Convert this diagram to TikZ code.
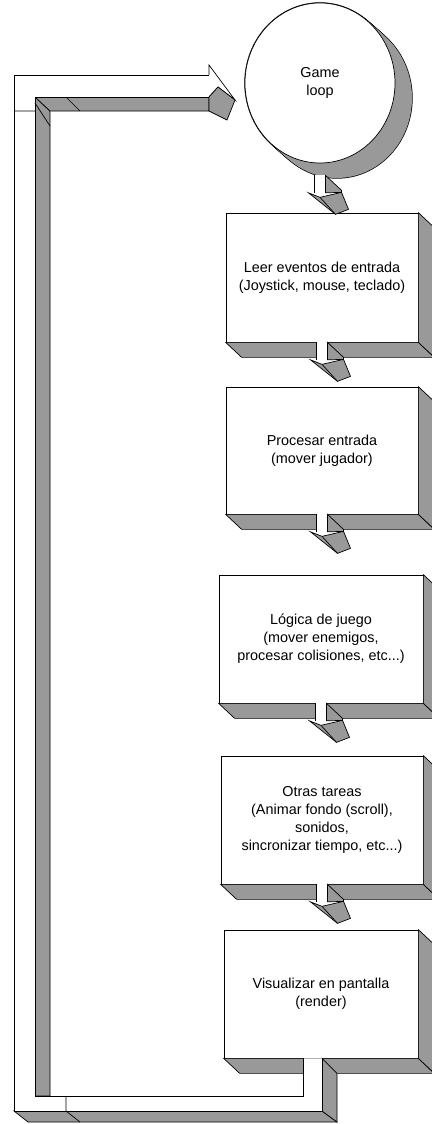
\documentclass[tikz,border=0pt]{standalone}
\usepackage{fontspec}
\setmainfont{Liberation Sans}
\usetikzlibrary{calc,shapes.geometric}
\definecolor{sidegray}{RGB}{153,153,153}

\begin{document}
\begin{tikzpicture}[x=1pt, y=-1pt, line width=0.7pt,
    every node/.style={font=\fontsize{14.4}{18}\selectfont, align=center, inner sep=0pt},
    stepbox/.style={rectangle, draw, fill=white},
    side/.style={draw, fill=sidegray}]
  \useasboundingbox (0,0) rectangle (431,1124);

  % shadow of the game loop
  \foreach \i in {0,...,10}
    \draw[line width=1.4pt] ({320+1.7*\i},{83+1.5*\i}) ellipse [x radius=75pt, y radius=80pt];
  \foreach \i in {0,...,10}
    \fill[sidegray] ({320+1.7*\i},{83+1.5*\i}) ellipse [x radius=75pt, y radius=80pt];
  \node[ellipse, draw, fill=white, minimum width=150pt, minimum height=160pt] (loop) at (320,83) {Game\\loop};

  % steps
  \node[stepbox, minimum width=192pt, minimum height=129pt] (leer) at (322,277.5) {Leer eventos de entrada\\(Joystick, mouse, teclado)};
  \node[stepbox, minimum width=192pt, minimum height=127pt] (proc) at (322,450.5) {Procesar entrada\\(mover jugador)};
  \node[stepbox, minimum width=204pt, minimum height=128pt] (logica) at (321,639) {Lógica de juego\\(mover enemigos,\\procesar colisiones, etc...)};
  \node[stepbox, minimum width=202pt, minimum height=128pt] (otras) at (322,820) {Otras tareas\\(Animar fondo (scroll),\\sonidos,\\sincronizar tiempo, etc...)};
  \node[stepbox, minimum width=194pt, minimum height=128pt] (visual) at (321,994) {Visualizar en pantalla\\(render)};

  % 3d sides of the steps
  \foreach \n in {leer,proc,logica,otras,visual} {
    \filldraw[side] (\n.south west) -- (\n.south east) -- ++(16,15) -- ($(\n.south west)+(16,15)$) -- cycle;
    \filldraw[side] (\n.north east) -- ++(16,15) -- ($(\n.south east)+(16,15)$) -- (\n.south east) -- cycle;
  }

  % small arrows between steps
  \foreach \s/\d in {loop/12, leer/0, proc/0, logica/0, otras/0} {
    \begin{scope}[shift={($(\s.south)+(0,\d)$)}]
      \filldraw[side] (5.5,0) -- (21.5,15) -- (21.5,17) -- (5.5,17.5) -- cycle;
      \fill[white] (-5.5,-0.8) rectangle (5.5,17.5);
      \draw (-5.5,0) -- (-5.5,17.5) (5.5,0) -- (5.5,17.5);
      \filldraw[side] (-11.5,17.5) -- (0,22) -- (21.5,17) -- (28.5,34) -- (15.5,39) -- cycle;
      \draw (0,22) -- (15.5,39);
    \end{scope}
  }

  % return arrow back to the game loop
  \coordinate (rin) at ($(visual.south)+(-18,0)$);
  \coordinate (rout) at ($(visual.south)+(1,0)$);
  \filldraw[side] (35,97) -- (50,111) -- (50,1096) -- (35,1096) -- cycle;
  \filldraw[side] (35,97) -- (209,97) -- (209,111) -- (50,111) -- cycle;
  \filldraw[side] (14,1111) -- (322,1111) -- (337,1122) -- (28,1122) -- cycle;
  \filldraw[side] (rout) -- ++(15,15) -- (337,1122) -- (322,1111) -- cycle;
  \fill[white] (rin) -- (303,1096) -- (35,1096) -- (35,97) -- (209,97) -- (209,75) -- (14,75) -- (14,1111) -- (322,1111) -- (rout) -- cycle;
  \draw (rin) -- (303,1096) -- (35,1096) -- (35,97) -- (209,97);
  \draw (209,75) -- (14,75) -- (14,1111) -- (322,1111) -- (rout);
  \draw (66,97) -- (80,111) (35,103) -- (50,126) (14,111) -- (35,111);
  \draw (66,1096) -- (66,1111) -- (80,1122);
  % head pointing at the loop
  \filldraw[fill=white] (209,75) -- (209,65) -- (235,100) -- (218,87) -- (209,97);
  \filldraw[side] (209,97) -- (218,87) -- (235,100) -- (227,120) -- (209,111) -- cycle;
\end{tikzpicture}
\end{document}
